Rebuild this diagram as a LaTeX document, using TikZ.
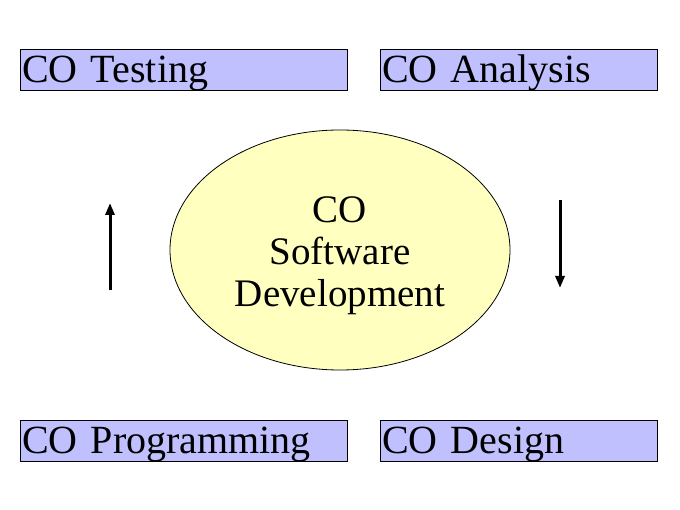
\documentclass[tikz,border=0pt]{standalone}
\usepackage{fontspec}
\setmainfont{Liberation Serif}
\usetikzlibrary{shapes.geometric,arrows.meta}
\definecolor{boxblue}{RGB}{192,192,255}
\definecolor{ellyellow}{RGB}{255,255,192}
\tikzset{
  phasebox/.style={draw=black, line width=1pt, fill=boxblue, inner xsep=2pt, inner ysep=2pt,
    text height=31pt, text depth=6pt, align=left, font=\fontsize{40}{44}\selectfont},
  core/.style={draw=black, line width=0.8pt, fill=ellyellow, ellipse, inner sep=0pt,
    minimum width=340pt, minimum height=240pt},
  coretext/.style={align=center, inner sep=0pt, font=\fontsize{39}{42}\selectfont},
  flow/.style={line width=3pt, -{Triangle[width=9pt,length=12pt]}}
}
\begin{document}
\begin{tikzpicture}[x=1pt,y=-1pt]
\useasboundingbox (0,0) rectangle (680,510);
\node[phasebox, text width=323pt] (test) at (183.5,70.5) {CO Testing};
\node[phasebox, text width=273pt] (anal) at (518.5,70.5) {CO Analysis};
\node[phasebox, text width=323pt] (prog) at (183.5,440.5) {CO Programming};
\node[phasebox, text width=273pt] (des) at (518.5,440.5) {CO Design};
\node[core] (sd) at (340,250) {};
\node[coretext] (sdtext) at (340,256) {CO\\Software\\Development};
\coordinate (lb) at (110,290);
\coordinate (lt) at (110,203);
\coordinate (rt) at (560,200);
\coordinate (rb) at (560,288);
\draw[flow] (lb) -- (lt);
\draw[flow] (rt) -- (rb);
\end{tikzpicture}
\end{document}
